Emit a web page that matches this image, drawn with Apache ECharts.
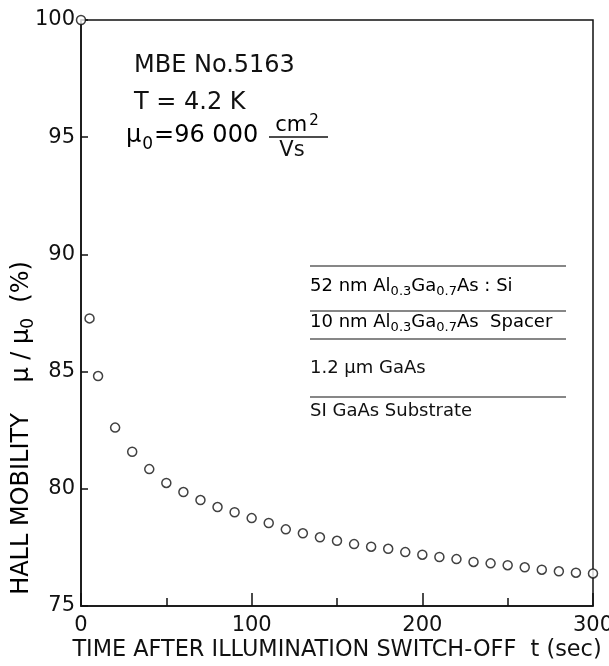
<!DOCTYPE html>
<html><head><meta charset="utf-8">
<script src="https://cdn.jsdelivr.net/npm/echarts@6/dist/echarts.min.js"></script>
<style>html,body{margin:0;padding:0;background:#fff}#c{width:609px;height:666px}</style>
</head><body><div id="c"></div>
<script>
// ---- data ----
const times = [0,5,10,20,30,40,50,60,70,80,90,100,110,120,130,140,150,160,170,180,190,200,210,220,230,240,250,260,270,280,290,300];
const mobility = [100,87.27,84.81,82.61,81.58,80.84,80.25,79.86,79.52,79.22,79.0,78.75,78.54,78.27,78.10,77.93,77.78,77.64,77.53,77.44,77.30,77.19,77.09,77.00,76.88,76.82,76.74,76.65,76.55,76.48,76.42,76.39];
const xTickLabels = [0,100,200,300];
const yTickLabels = [75,80,85,90,95,100];

const F = '"DejaVu Sans", "Liberation Sans", sans-serif';
const ink = '#111';
const chart = echarts.init(document.getElementById('c'), null, {renderer:'canvas'});

const layerMain = {fontSize:18, fontFamily:F, lineHeight:24, verticalAlign:'middle', color:ink};
const layerSub = {fontSize:13, fontFamily:F, lineHeight:13, verticalAlign:'top', padding:[11,0,0,0], color:ink};

chart.setOption({
  animation:false,
  backgroundColor:'#fff',
  grid:{left:81, right:16, top:20, bottom:60, outerBoundsMode:'none', containLabel:false,
        show:true, borderColor:ink, borderWidth:1.5, backgroundColor:'transparent'},
  xAxis:{
    type:'value', min:0, max:300, interval:100,
    axisLine:{lineStyle:{color:ink, width:1.5}},
    axisTick:{inside:true, length:13, lineStyle:{color:ink, width:1.5}},
    minorTick:{show:true, splitNumber:2, length:8, lineStyle:{color:ink, width:1.5}},
    splitLine:{show:false},
    axisLabel:{color:ink, fontSize:21, fontFamily:F, margin:9,
      formatter: v => xTickLabels.includes(v) ? String(v) : ''}
  },
  yAxis:{
    type:'value', min:75, max:100, interval:5,
    axisLine:{lineStyle:{color:ink, width:1.5}},
    axisTick:{inside:true, length:7, lineStyle:{color:ink, width:1.5}},
    splitLine:{show:false},
    axisLabel:{color:ink, fontSize:21, fontFamily:F, margin:6,
      formatter: v => yTickLabels.includes(v) ? String(v) : ''}
  },
  series:[{
    type:'scatter',
    data: times.map((t,i)=>[t, mobility[i]]),
    symbol:'circle', symbolSize:9, clip:false, z:10,
    itemStyle:{color:'#fff', borderColor:ink, borderWidth:1.5}
  }],
  graphic:[
    // annotations
    {type:'text', x:134, y:66, z:50, style:{text:'MBE No.5163', font:'24px '+F, fill:ink, align:'left', verticalAlign:'middle'}},
    {type:'text', x:134, y:103, z:50, style:{text:'T = 4.2 K', font:'24px '+F, fill:ink, align:'left', verticalAlign:'middle'}},
    {type:'text', x:126, y:136, z:50, style:{
      text:'{m|μ}{s|0}{m|=96 000}', align:'left', verticalAlign:'middle',
      rich:{
        m:{fontSize:24, fontFamily:F, lineHeight:40, verticalAlign:'middle', color:ink},
        s:{fontSize:17, fontFamily:F, lineHeight:17, verticalAlign:'top', padding:[20,1,0,1], color:ink}
      }}},
    {type:'line', z:50, shape:{x1:269, y1:137, x2:328, y2:137}, style:{stroke:ink, lineWidth:1.5}},
    {type:'text', x:297, y:126, z:50, style:{
      text:'{a|cm}{b|2}', align:'center', verticalAlign:'middle',
      rich:{
        a:{fontSize:21, fontFamily:F, lineHeight:30, verticalAlign:'middle', color:ink},
        b:{fontSize:15, fontFamily:F, lineHeight:15, verticalAlign:'top', padding:[3,0,0,2], color:ink}
      }}},
    {type:'text', x:292, y:151, z:50, style:{text:'Vs', font:'21px '+F, fill:ink, align:'center', verticalAlign:'middle'}},

    // layer diagram
    {type:'line', z:50, shape:{x1:310, y1:266, x2:566, y2:266}, style:{stroke:ink, lineWidth:1.2}},
    {type:'line', z:50, shape:{x1:310, y1:311, x2:566, y2:311}, style:{stroke:ink, lineWidth:1.2}},
    {type:'line', z:50, shape:{x1:310, y1:339, x2:566, y2:339}, style:{stroke:ink, lineWidth:1.2}},
    {type:'line', z:50, shape:{x1:310, y1:397, x2:566, y2:397}, style:{stroke:ink, lineWidth:1.2}},
    {type:'text', x:310, y:286, z:50, style:{text:'{m|52 nm Al}{s|0.3}{m|Ga}{s|0.7}{m|As : Si}', align:'left', verticalAlign:'middle', rich:{m:layerMain, s:layerSub}}},
    {type:'text', x:310, y:322, z:50, style:{text:'{m|10 nm Al}{s|0.3}{m|Ga}{s|0.7}{m|As  Spacer}', align:'left', verticalAlign:'middle', rich:{m:layerMain, s:layerSub}}},
    {type:'text', x:310, y:368, z:50, style:{text:'1.2 μm GaAs', font:'18px '+F, fill:ink, align:'left', verticalAlign:'middle'}},
    {type:'text', x:310, y:411, z:50, style:{text:'SI GaAs Substrate', font:'18px '+F, fill:ink, align:'left', verticalAlign:'middle'}},

    // axis titles
    {type:'text', x:337, y:650, z:50, style:{text:'TIME AFTER ILLUMINATION SWITCH-OFF  t (sec)', font:'22.4px '+F, fill:ink, align:'center', verticalAlign:'middle'}},
    {type:'text', x:22, y:428, rotation:Math.PI/2, z:50, style:{
      text:'{m|HALL MOBILITY    μ / μ}{s|0}{m|  (%)}', align:'center', verticalAlign:'middle',
      rich:{
        m:{fontSize:24, fontFamily:F, lineHeight:30, verticalAlign:'middle', color:ink},
        s:{fontSize:17, fontFamily:F, lineHeight:17, verticalAlign:'top', padding:[13,0,0,0], color:ink}
      }}}
  ]
});
</script>
</body></html>
